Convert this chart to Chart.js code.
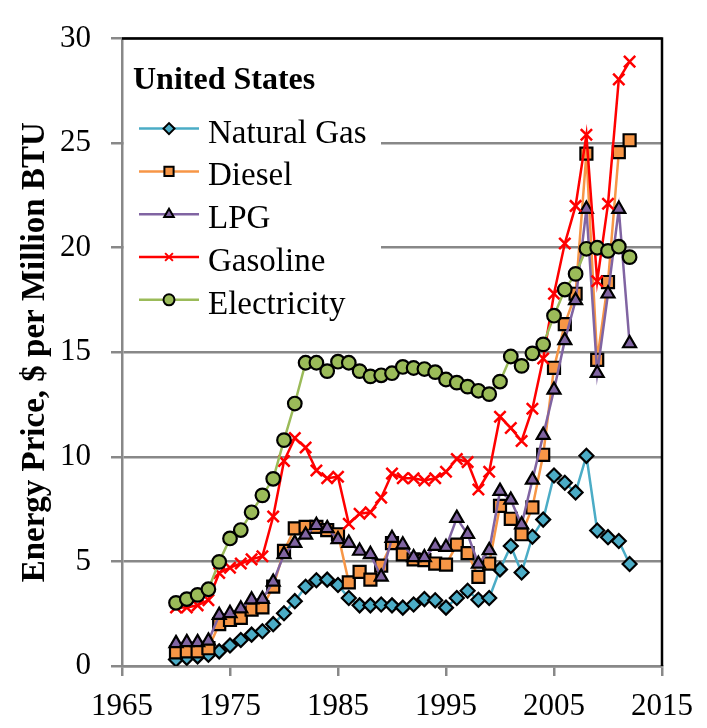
<!DOCTYPE html>
<html>
<head>
<meta charset="utf-8">
<script src="https://cdn.jsdelivr.net/npm/chart.js@4.4.1/dist/chart.umd.min.js"></script>
<style>
  html, body { margin: 0; padding: 0; background: #fff; }
  #wrap { width: 707px; height: 728px; }
</style>
</head>
<body>
<div id="wrap"><canvas id="energyChart" width="707" height="728"></canvas></div>
<script>
// values ($ per million BTU)
const years = [1970, 1971, 1972, 1973, 1974, 1975, 1976, 1977, 1978, 1979,
               1980, 1981, 1982, 1983, 1984, 1985, 1986, 1987, 1988, 1989,
               1990, 1991, 1992, 1993, 1994, 1995, 1996, 1997, 1998, 1999,
               2000, 2001, 2002, 2003, 2004, 2005, 2006, 2007, 2008, 2009,
               2010, 2011, 2012];

const naturalGas = [0.31, 0.39, 0.46, 0.54, 0.70, 0.98, 1.24, 1.50, 1.66, 2.00,
                    2.52, 3.10, 3.79, 4.10, 4.13, 3.87, 3.25, 2.90, 2.90, 2.94,
                    2.90, 2.79, 2.94, 3.20, 3.14, 2.79, 3.25, 3.60, 3.17, 3.25,
                    4.62, 5.74, 4.47, 6.18, 7.00, 9.11, 8.76, 8.30, 10.05, 6.48,
                    6.16, 5.98, 4.88];

const diesel = [0.65, 0.70, 0.70, 0.85, 2.00, 2.20, 2.30, 2.70, 2.80, 3.80,
                5.50, 6.58, 6.65, 6.65, 6.50, 6.30, 4.00, 4.50, 4.13, 4.80,
                5.88, 5.34, 5.10, 5.06, 4.90, 4.85, 5.80, 5.40, 4.26, 4.90,
                7.66, 7.04, 6.30, 7.58, 10.10, 14.26, 16.35, 17.80, 24.50, 14.64,
                18.36, 24.57, 25.14];

const lpg = [1.08, 1.13, 1.13, 1.20, 2.43, 2.52, 2.74, 3.17, 3.20, 4.02,
             5.34, 5.88, 6.27, 6.73, 6.58, 6.05, 5.88, 5.50, 5.34, 4.26,
             6.11, 5.80, 5.19, 5.19, 5.73, 5.68, 7.07, 6.30, 4.88, 5.53,
             8.36, 7.94, 6.76, 8.90, 11.04, 13.20, 15.57, 17.48, 21.85, 14.00,
             17.80, 21.85, 15.42];

const gasoline = [2.80, 2.80, 2.90, 3.15, 4.45, 4.70, 4.90, 5.10, 5.25, 7.15,
                  9.80, 10.90, 10.45, 9.35, 8.98, 9.05, 6.80, 7.28, 7.35, 8.05,
                  9.20, 8.98, 8.98, 8.87, 8.98, 9.29, 9.90, 9.75, 8.44, 9.29,
                  11.92, 11.38, 10.76, 12.30, 14.70, 17.80, 20.20, 22.00, 25.40, 18.40,
                  22.10, 28.05, 28.90];

const electricity = [3.02, 3.20, 3.40, 3.67, 4.98, 6.10, 6.50, 7.35, 8.16, 8.95,
                     10.80, 12.55, 14.50, 14.50, 14.10, 14.55, 14.50, 14.10, 13.85, 13.90,
                     14.00, 14.30, 14.25, 14.20, 14.05, 13.70, 13.55, 13.36, 13.16, 13.00,
                     13.60, 14.80, 14.35, 14.95, 15.38, 16.75, 18.00, 18.75, 19.95, 20.00,
                     19.85, 20.05, 19.55];

const seriesNames = ['Natural Gas', 'Diesel', 'LPG', 'Gasoline', 'Electricity'];
const xTicks = [1965, 1975, 1985, 1995, 2005, 2015];
const yTicks = [0, 5, 10, 15, 20, 25, 30];

function toPoints(values) {
    return years.map((yr, i) => ({ x: yr, y: values[i] }));
}

function series(name, values, color, style, radius, order) {
    const isCross = style === 'crossRot';
    return {
        label: name,
        data: toPoints(values),
        borderColor: color,
        borderWidth: 2.5,
        tension: 0,
        pointStyle: style,
        pointRadius: radius,
        pointBackgroundColor: color,
        pointBorderColor: isCross ? color : '#000',
        pointBorderWidth: isCross ? 2.5 : 2.2,
        order: order
    };
}

// legend drawn inside the plot, top-left, like the original
const insideLegend = {
    id: 'insideLegend',
    beforeDatasetsDraw(chart) {
        const ctx = chart.ctx;
        const a = chart.chartArea;
        ctx.save();
        ctx.fillStyle = '#fff';
        ctx.fillRect(a.left + 2, a.top + 2, 257, 290);

        ctx.fillStyle = '#000';
        ctx.textAlign = 'left';
        ctx.textBaseline = 'alphabetic';
        ctx.font = 'bold 32px "Liberation Serif"';
        ctx.fillText('United States', a.left + 11, a.top + 50);

        ctx.font = '33px "Liberation Serif"';
        chart.data.datasets.forEach((ds, i) => {
            const y = a.top + 90 + i * 42.8;
            ctx.strokeStyle = ds.borderColor;
            ctx.lineWidth = 2.5;
            ctx.beginPath();
            ctx.moveTo(a.left + 17, y);
            ctx.lineTo(a.left + 77, y);
            ctx.stroke();
            ctx.fillStyle = ds.pointBackgroundColor;
            ctx.strokeStyle = ds.pointBorderColor;
            ctx.lineWidth = 2;
            Chart.helpers.drawPoint(ctx, {
                pointStyle: ds.pointStyle,
                radius: ds.pointStyle === 'rect' ? 6.5 : 5.5,
                rotation: 0,
                borderWidth: 2
            }, a.left + 47, y);
            ctx.fillStyle = '#000';
            ctx.fillText(ds.label, a.left + 86, y + 14);
        });
        ctx.restore();
    }
};

// black frame on the top and right, the axes themselves are grey
const frame = {
    id: 'frame',
    beforeDatasetsDraw(chart) {
        const ctx = chart.ctx;
        const a = chart.chartArea;
        ctx.save();
        ctx.strokeStyle = '#000';
        ctx.lineWidth = 2.5;
        ctx.beginPath();
        ctx.moveTo(a.left, a.top);
        ctx.lineTo(a.right, a.top);
        ctx.lineTo(a.right, a.bottom);
        ctx.stroke();
        ctx.restore();
    }
};

const ctx = document.getElementById('energyChart').getContext('2d');
const energyChart = new Chart(ctx, {
    type: 'line',
    data: {
        datasets: [
            series(seriesNames[0], naturalGas, '#4bacc6', 'rectRot', 7, 5),
            series(seriesNames[1], diesel, '#f79646', 'rect', 8.5, 4),
            series(seriesNames[2], lpg, '#8064a2', 'triangle', 7.5, 3),
            series(seriesNames[3], gasoline, '#ff0000', 'crossRot', 8, 2),
            series(seriesNames[4], electricity, '#9bbb59', 'circle', 6.8, 1)
        ]
    },
    options: {
        responsive: false,
        animation: false,
        devicePixelRatio: 1,
        layout: { padding: { top: 18, right: 45, left: 0, bottom: 0 } },
        plugins: {
            legend: { display: false },
            tooltip: { enabled: false }
        },
        scales: {
            x: {
                type: 'linear',
                min: xTicks[0],
                max: xTicks[xTicks.length - 1],
                afterBuildTicks: s => { s.ticks = xTicks.map(v => ({ value: v })); },
                afterFit: s => { s.height = 62; },
                ticks: {
                    color: '#000',
                    font: { family: 'Liberation Serif', size: 31 },
                    padding: 12,
                    maxRotation: 0,
                    callback: v => String(v)
                },
                grid: { drawOnChartArea: false, color: '#888', lineWidth: 2.5, tickLength: 10 },
                border: { color: '#888', width: 2.5 }
            },
            y: {
                min: yTicks[0],
                max: yTicks[yTicks.length - 1],
                afterBuildTicks: s => { s.ticks = yTicks.map(v => ({ value: v })); },
                afterFit: s => { s.width = 122; },
                ticks: {
                    color: '#000',
                    font: { family: 'Liberation Serif', size: 31 },
                    padding: 20,
                    callback: v => String(v)
                },
                grid: { color: '#888', lineWidth: 2.5, tickLength: 11 },
                border: { color: '#888', width: 2.5 },
                title: {
                    display: true,
                    text: 'Energy Price, $ per Million BTU',
                    color: '#000',
                    font: { family: 'Liberation Serif', size: 33, weight: 'bold' },
                    padding: { top: 16, bottom: 0 }
                }
            }
        }
    },
    plugins: [frame, insideLegend]
});
</script>
</body>
</html>
